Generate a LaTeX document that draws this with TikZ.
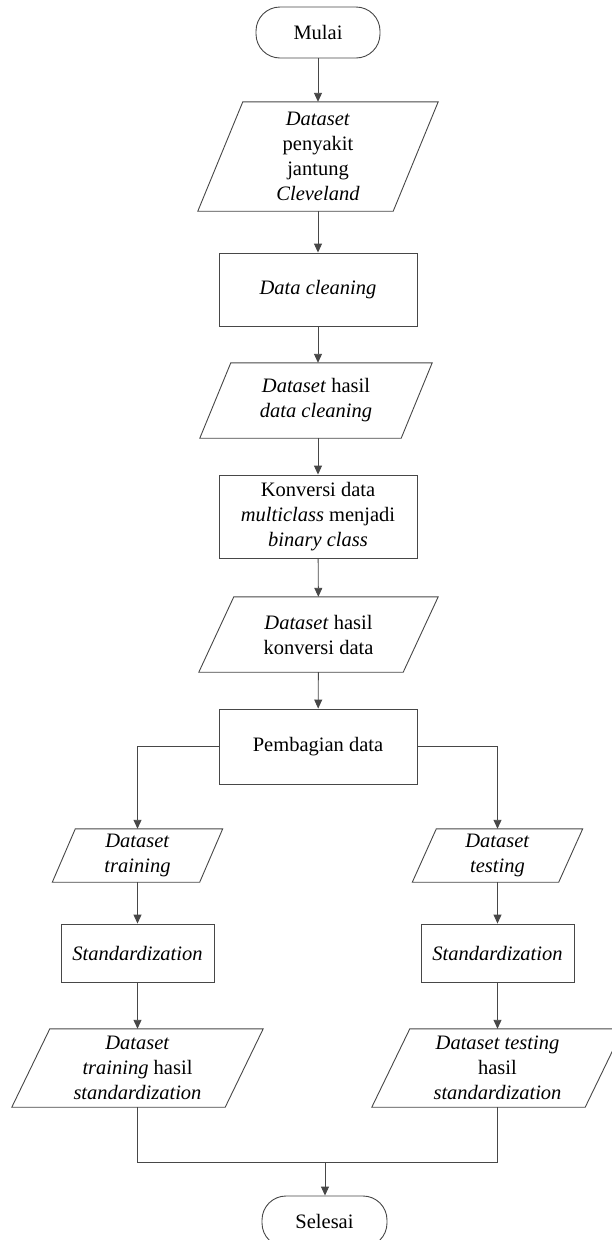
\documentclass[tikz,border=0pt]{standalone}
\usepackage{fontspec}
\setmainfont{Liberation Serif}
\usetikzlibrary{arrows.meta}
\colorlet{linec}{black!72}
\tikzset{
  base/.style={font=\fontsize{20.5}{25}\selectfont, align=center, inner sep=0pt, text=black},
  termbox/.style={base, draw=linec, line width=0.9pt, rounded corners=24pt,
                  minimum width=124pt, minimum height=51pt},
  procbox/.style={base, draw=linec, line width=0.9pt},
  iobox/.style={base},
  line/.style={draw=linec, line width=0.9pt},
  arr/.style={line, -{Triangle[length=9pt,width=8pt]}},
}
\begin{document}
\begin{tikzpicture}[x=1pt, y=-1pt]
  \useasboundingbox (0,0) rectangle (612,1240);
  \clip (0,0) rectangle (612,1240);

  % main column
  \node[termbox] (start) at (318,32.5) {Mulai};
  \node[iobox, minimum width=240pt, minimum height=109pt] (p1) at (318,156.5)
    {\textit{Dataset}\\penyakit\\jantung\\\textit{Cleveland}};
  \node[procbox, minimum width=198pt, minimum height=73pt] (clean) at (318,289.5)
    {\textit{Data cleaning}};
  \node[iobox, minimum width=232pt, minimum height=75pt] (p2) at (316,400.5)
    {\textit{Dataset} hasil\\\textit{data cleaning}};
  \node[procbox, minimum width=198pt, minimum height=83pt] (konv) at (318,516.5)
    {Konversi data\\\textit{multiclass} menjadi\\\textit{binary class}};
  \node[iobox, minimum width=239pt, minimum height=75pt] (p3) at (318.5,634.5)
    {\textit{Dataset} hasil\\konversi data};
  \node[procbox, minimum width=198pt, minimum height=75pt] (split) at (318,746.5)
    {Pembagian data};

  % left branch
  \node[iobox, minimum width=170pt, minimum height=53pt] (tl) at (137.5,855.5)
    {\textit{Dataset}\\\textit{training}};
  \node[procbox, minimum width=153pt, minimum height=58pt] (sl) at (137.5,953)
    {\textit{Standardization}};
  \node[iobox, minimum width=251pt, minimum height=78pt] (rl) at (137.5,1068)
    {\textit{Dataset}\\\textit{training} hasil\\\textit{standardization}};

  % right branch
  \node[iobox, minimum width=170pt, minimum height=53pt] (tr) at (497.5,855.5)
    {\textit{Dataset}\\\textit{testing}};
  \node[procbox, minimum width=153pt, minimum height=58pt] (sr) at (497.5,953)
    {\textit{Standardization}};
  \node[iobox, minimum width=251pt, minimum height=78pt] (rr) at (497.5,1068)
    {\textit{Dataset testing}\\hasil\\\textit{standardization}};

  % end
  \coordinate (m) at (325,1162);
  \node[termbox, minimum width=125pt] (end) at (324.5,1221.5) {Selesai};

  % parallelogram outlines for the data nodes
  \foreach \n/\s in {p1/45, p2/31, p3/35, tl/23, tr/24, rl/38, rr/38}
    \draw[line] ([xshift=\s pt]\n.north west) -- (\n.north east)
      -- ([xshift=-\s pt]\n.south east) -- (\n.south west) -- cycle;

  % connectors
  \draw[arr] (start) -- (p1);
  \draw[arr] (p1) -- (clean);
  \draw[arr] (clean) -- (p2.north -| clean.south);
  \draw[arr] (p2.south -| clean.south) -- (konv);
  \draw[arr] (konv) -- (p3);
  \draw[arr] (p3) -- (split);
  \draw[arr] (split.west) -| (tl.north);
  \draw[arr] (split.east) -| (tr.north);
  \draw[arr] (tl) -- (sl);
  \draw[arr] (sl) -- (rl);
  \draw[arr] (tr) -- (sr);
  \draw[arr] (sr) -- (rr);
  \draw[line] (rl.south) |- (m) -| (rr.south);
  \draw[arr] (m) -- (end.north -| m);
\end{tikzpicture}
\end{document}
